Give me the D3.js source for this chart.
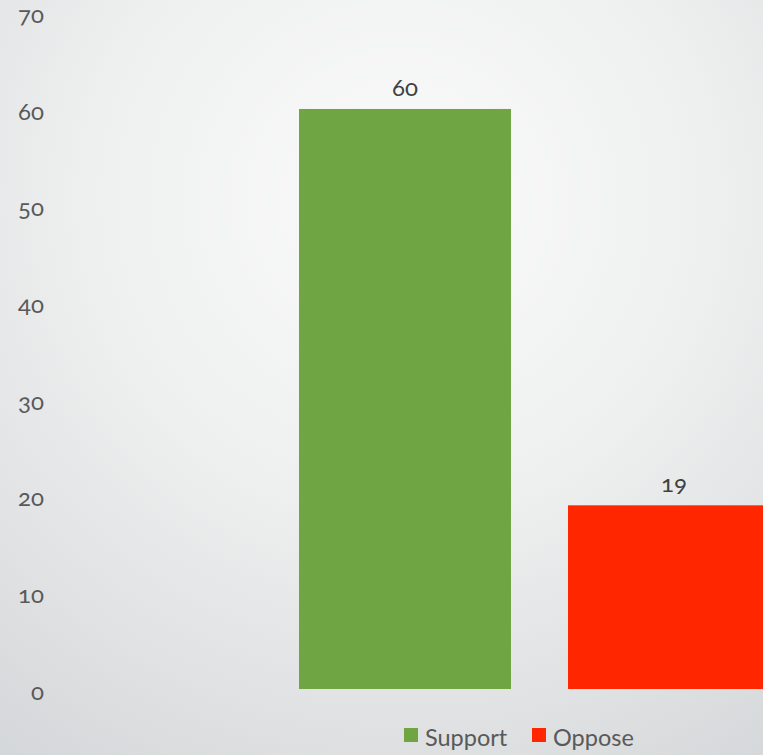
<!DOCTYPE html>
<html>
<head>
<meta charset="utf-8">
<script src="https://cdn.jsdelivr.net/npm/d3@7"></script>
<style>
  html, body { margin: 0; padding: 0; overflow: hidden; }
  svg { display: block; }
  svg text { font-family: Lato, "Open Sans", sans-serif; font-variant-numeric: oldstyle-nums; }
</style>
</head>
<body>
<script>
// chart data
const series = ["Support", "Oppose"];
const values = [60, 19];
const colors = ["#70a544", "#ff2600"];
const yTicks = [0, 10, 20, 30, 40, 50, 60, 70];

const W = 763, H = 755;

const svg = d3.select("body").append("svg")
    .attr("width", W)
    .attr("height", H);

// background, light centre fading to grey
const defs = svg.append("defs");
const grad = defs.append("radialGradient")
    .attr("id", "bg")
    .attr("gradientUnits", "userSpaceOnUse")
    .attr("cx", 400).attr("cy", 200).attr("r", 700);
grad.append("stop").attr("offset", "0%").attr("stop-color", "#fbfbfb");
grad.append("stop").attr("offset", "45%").attr("stop-color", "#eeefef");
grad.append("stop").attr("offset", "100%").attr("stop-color", "#d3d6d8");

svg.append("rect").attr("width", W).attr("height", H).attr("fill", "url(#bg)");

const y = d3.scaleLinear().domain([0, 70]).range([689, 12.3]);
const x = d3.scaleBand().domain(series).range([299, 780]).paddingInner(0.212);

// y axis labels, no line
const yAxis = svg.append("g")
    .attr("transform", "translate(44,0)")
    .call(d3.axisLeft(y).tickValues(yTicks).tickSize(0).tickPadding(0));
yAxis.attr("font-family", null);
yAxis.select(".domain").remove();
yAxis.selectAll("text")
    .attr("fill", "#595959")
    .attr("font-size", 24)
    .attr("dy", "0.42em");

// bars
svg.selectAll(".bar")
  .data(values)
  .join("rect")
    .attr("class", "bar")
    .attr("x", (d, i) => x(series[i]))
    .attr("y", d => y(d))
    .attr("width", x.bandwidth())
    .attr("height", d => y(0) - y(d))
    .attr("fill", (d, i) => colors[i]);

// value labels
svg.selectAll(".val")
  .data(values)
  .join("text")
    .attr("class", "val")
    .attr("x", (d, i) => x(series[i]) + x.bandwidth() / 2)
    .attr("y", d => y(d) - 13)
    .attr("text-anchor", "middle")
    .attr("fill", "#404040")
    .attr("font-size", 24)
    .text(d => d);

// legend
const legend = svg.append("g").attr("transform", "translate(404,728)");
const legX = [0, 128];
series.forEach((s, i) => {
  const g = legend.append("g").attr("transform", `translate(${legX[i]},0)`);
  g.append("rect").attr("width", 14).attr("height", 14).attr("fill", colors[i]);
  g.append("text")
    .attr("x", 21)
    .attr("y", 18)
    .attr("fill", "#595959")
    .attr("font-size", 23.5)
    .text(s);
});
</script>
</body>
</html>
